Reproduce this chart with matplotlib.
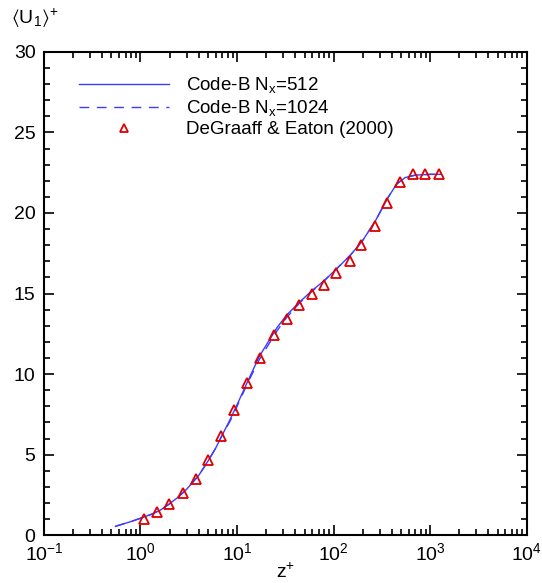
import numpy as np
import matplotlib
matplotlib.use('Agg')
import matplotlib.pyplot as plt
from matplotlib.ticker import LogLocator, MultipleLocator

plt.rcParams['font.family'] = ['Liberation Sans', 'DejaVu Sans']
plt.rcParams['mathtext.fontset'] = 'custom'
plt.rcParams['mathtext.rm'] = 'Liberation Sans'
plt.rcParams['mathtext.it'] = 'Liberation Sans:italic'
plt.rcParams['mathtext.default'] = 'regular'

# Code-B, Nx=512
z_512 = [0.55, 0.8, 1.0, 1.3, 1.6, 2.0, 2.5, 3.0, 4.0, 5.0, 6.0, 7.0, 8.5, 10, 13, 17,
         21, 26, 33, 45, 60, 80, 110, 150, 200, 270, 360, 450, 550, 700, 1000, 1300]
u_512 = [0.55, 0.85, 1.05, 1.3, 1.55, 1.95, 2.4, 2.85, 3.7, 4.6, 5.4, 6.2, 7.2, 8.1, 9.6, 11.1,
         12.0, 12.9, 13.7, 14.5, 15.2, 15.8, 16.6, 17.4, 18.3, 19.5, 20.9, 21.8, 22.2, 22.35, 22.4, 22.4]

# Code-B, Nx=1024
z_1024 = [0.55, 0.8, 1.0, 1.3, 1.6, 2.0, 2.5, 3.0, 4.0, 5.0, 6.0, 7.0, 8.5, 10, 13, 17,
          21, 26, 33, 45, 60, 80, 110, 150, 200, 270, 360, 450, 550, 700, 1000, 1300]
u_1024 = [0.55, 0.85, 1.05, 1.3, 1.55, 1.95, 2.4, 2.85, 3.7, 4.6, 5.4, 6.2, 7.1, 8.0, 9.5, 10.9,
          11.8, 12.7, 13.55, 14.45, 15.15, 15.8, 16.6, 17.4, 18.3, 19.5, 20.9, 21.8, 22.2, 22.35, 22.4, 22.4]

# DeGraaff & Eaton (2000)
z_exp = [1.10, 1.50, 1.99, 2.77, 3.78, 5.02, 6.84, 9.31, 12.7, 17.3, 24.1, 32.8,
         43.6, 59.3, 78.9, 107, 146, 194, 265, 360, 490, 668, 890, 1239]
u_exp = [1.0, 1.43, 1.93, 2.6, 3.5, 4.66, 6.15, 7.76, 9.44, 11.0, 12.4, 13.4,
         14.3, 15.0, 15.5, 16.3, 17.0, 18.0, 19.2, 20.6, 21.9, 22.4, 22.4, 22.4]

fig = plt.figure(figsize=(5.42, 5.83), dpi=100)
ax = fig.add_axes([0.081, 0.082, 0.891, 0.829])

ax.plot(z_512, u_512, color='#3c3cff', lw=1.0, label=r'Code-B N$_x$=512')
ax.plot(z_1024, u_1024, color='#3c3cff', lw=1.0, ls=(0, (7, 5.5)), label=r'Code-B N$_x$=1024')
ax.plot(z_exp, u_exp, ls='none', marker='^', ms=7, mfc='none', mec='#dd0000', mew=1.3,
        label='DeGraaff & Eaton (2000)')

ax.set_xscale('log')
ax.set_xlim(1e-1, 1e4)
ax.set_ylim(0, 30)
ax.xaxis.set_major_locator(LogLocator(base=10, numticks=10))
ax.xaxis.set_minor_locator(LogLocator(base=10, subs=np.arange(2, 10), numticks=50))
ax.yaxis.set_major_locator(MultipleLocator(5))
ax.yaxis.set_minor_locator(MultipleLocator(1))

ax.tick_params(which='both', direction='in', top=True, right=True, labelsize=14, width=1.2)
ax.tick_params(which='major', length=7)
ax.tick_params(which='minor', length=4)
ax.tick_params(axis='x', pad=5)
ax.tick_params(axis='y', pad=6)
for s in ax.spines.values():
    s.set_linewidth(1.5)

ax.set_xlabel(r'z$^{+}$', fontsize=14, labelpad=-1)
fig.text(0.02, 0.968, r'$\langle$U$_1\rangle^{+}$', fontsize=14, va='center', ha='left')

ax.legend(loc='upper left', bbox_to_anchor=(0.058, 0.967), frameon=False, fontsize=13.5,
          handlelength=4.8, handletextpad=0.9, labelspacing=0.15, borderaxespad=0,
          markerscale=0.85)

fig.savefig('out.png', dpi=100)
